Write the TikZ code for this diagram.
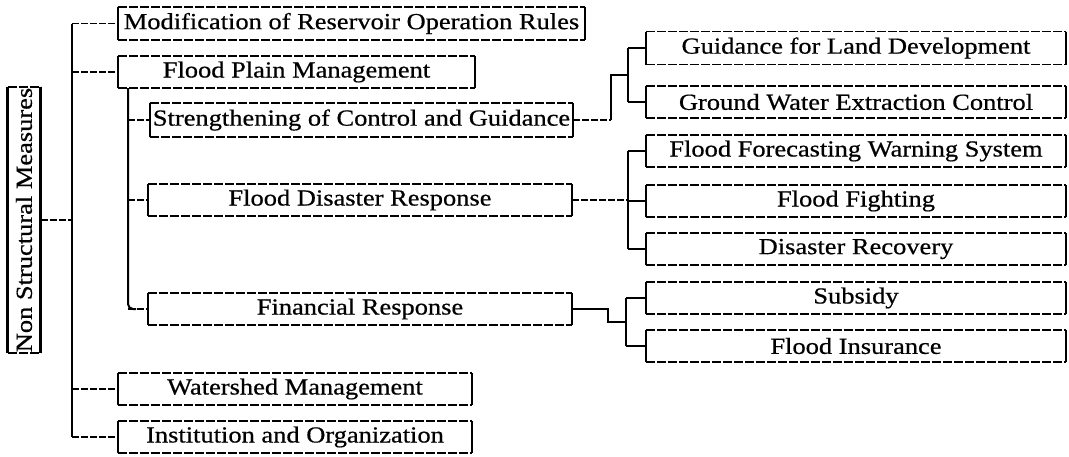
\documentclass[tikz,border=0pt]{standalone}
\usepackage{fontspec}
\setmainfont{Liberation Serif}[FakeStretch=1.15,FakeBold=0.6]
\usetikzlibrary{calc}
\tikzset{
  bx/.style={inner sep=0pt, outer sep=0pt, font=\fontsize{23}{26}\selectfont},
  sidev/.style={line width=2.2pt, black},
  sideh/.style={line width=1.1pt, black, dash pattern=on 9pt off 2pt},
  trunk/.style={line width=2pt, black},
  link/.style={line width=1.2pt, black, dash pattern=on 7pt off 2pt},
}
\newcommand{\boxlines}[1]{%
  \draw[sidev] (#1.north west) -- (#1.south west);
  \draw[sidev] (#1.north east) -- (#1.south east);
  \draw[sideh] (#1.north west) -- (#1.north east);
  \draw[sideh] (#1.south west) -- (#1.south east);}
\begin{document}
\begin{tikzpicture}[x=1pt,y=-1pt]
\useasboundingbox (0,0) rectangle (1069,456);
% root
\node[bx, minimum width=33, minimum height=266] (root) at (24,220) {\rotatebox{90}{Non Structural Measures}};
% level 1
\node[bx, minimum width=467, minimum height=33] (mod) at (351.5,23.5) {Modification of Reservoir Operation Rules};
\node[bx, minimum width=357, minimum height=32] (fp) at (296.5,72) {Flood Plain Management};
\node[bx, minimum width=354, minimum height=32] (ws) at (295,389) {Watershed Management};
\node[bx, minimum width=354, minimum height=32] (inst) at (295,437) {Institution and Organization};
% level 2
\node[bx, minimum width=423, minimum height=34] (str) at (361.5,120) {Strengthening of Control and Guidance};
\node[bx, minimum width=424, minimum height=32] (fdr) at (360,200) {Flood Disaster Response};
\node[bx, minimum width=424, minimum height=32] (fr) at (360,309) {Financial Response};
% level 3
\node[bx, minimum width=420, minimum height=33] (gld) at (856,48) {Guidance for Land Development};
\node[bx, minimum width=420, minimum height=32] (gwe) at (856,102) {Ground Water Extraction Control};
\node[bx, minimum width=420, minimum height=32] (ffws) at (856,151) {Flood Forecasting Warning System};
\node[bx, minimum width=420, minimum height=32] (ff) at (856,201) {Flood Fighting};
\node[bx, minimum width=420, minimum height=32] (dr) at (856,249) {Disaster Recovery};
\node[bx, minimum width=420, minimum height=32] (sub) at (856,298) {Subsidy};
\node[bx, minimum width=420, minimum height=32] (fi) at (856,346) {Flood Insurance};
\foreach \n in {root,mod,fp,ws,inst,str,fdr,fr,gld,gwe,ffws,ff,dr,sub,fi}{\boxlines{\n}}
% coordinates
\coordinate (tx) at (72,0);
\coordinate (sx) at (128,0);
\coordinate (j1) at (628,75);
\coordinate (j2) at (628,0);
\coordinate (j3) at (626,321.5);
% main trunk
\draw[link] (root.east) -- (root.east -| tx);
\draw[trunk] (mod.west -| tx) -- (inst.west -| tx);
\foreach \n in {mod,fp,ws,inst}{\draw[link] (\n.west -| tx) -- (\n.west);}
% flood plain sub-trunk
\draw[trunk, rounded corners=5pt] (fp.south -| sx) -- (fr.west -| sx) -- ($(fr.west -| sx)+(8,0)$);
\foreach \n in {str,fdr,fr}{\draw[link] (\n.west -| sx) -- (\n.west);}
% strengthening fork
\draw[link] (str.east) -- ++(38,0);
\draw[trunk] ($(str.east)+(38,0)$) |- (j1);
\draw[trunk] (gld.west -| j1) -- (gwe.west -| j1);
\foreach \n in {gld,gwe}{\draw[trunk] (\n.west -| j1) -- (\n.west);}
% disaster response fork
\draw[link] (fdr.east) -- (fdr.east -| j2);
\draw[trunk] (ffws.west -| j2) -- (dr.west -| j2);
\foreach \n in {ffws,ff,dr}{\draw[trunk] (\n.west -| j2) -- (\n.west);}
% financial fork
\draw[trunk] (fr.east) -- ++(36,0) |- (j3);
\draw[trunk] (sub.west -| j3) -- (fi.west -| j3);
\foreach \n in {sub,fi}{\draw[trunk] (\n.west -| j3) -- (\n.west);}
\end{tikzpicture}
\end{document}
